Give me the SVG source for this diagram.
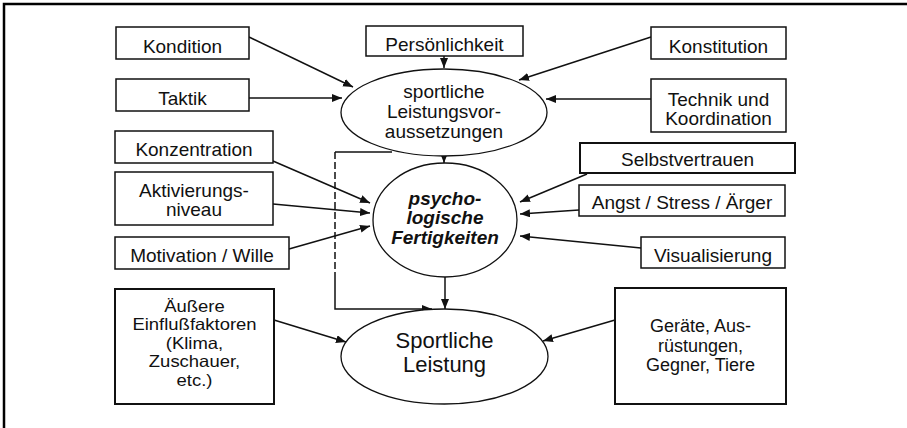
<svg xmlns="http://www.w3.org/2000/svg" width="907" height="428" viewBox="0 0 907 428">
<defs>
<style>
.box{fill:#fff;stroke:#111;stroke-width:1.5}
.boxb{fill:#fff;stroke:#111;stroke-width:2}
.ell{fill:#fff;stroke:#111;stroke-width:1.3}
.t{font-family:"Liberation Sans",Arial,sans-serif;font-size:19px;fill:#111;text-anchor:middle}
.s{font-size:18px}
.sm{font-size:16.5px}
.bi{font-weight:bold;font-style:italic}
.big{font-size:22px}
.c{fill:none;stroke:#111;stroke-width:1.5}
</style>
<marker id="ah" markerUnits="userSpaceOnUse" markerWidth="11" markerHeight="9" refX="10" refY="4" orient="auto">
<path d="M0,0 L10,4 L0,8 z" fill="#111"/>
</marker>
</defs>
<rect width="907" height="428" fill="#fff"/>
<rect x="4" y="4" width="1000" height="1000" fill="none" stroke="#000" stroke-width="2.5"/>

<g id="connectors">
<line class="c" x1="249" y1="37" x2="353" y2="87" marker-end="url(#ah)"/>
<line class="c" x1="249" y1="98" x2="342" y2="98" marker-end="url(#ah)"/>
<line class="c" x1="444" y1="56" x2="444" y2="68" marker-end="url(#ah)"/>
<line class="c" x1="651" y1="37" x2="519" y2="80" marker-end="url(#ah)"/>
<line class="c" x1="651" y1="99" x2="546" y2="99" marker-end="url(#ah)"/>
<line class="c" x1="444" y1="156" x2="444" y2="163" marker-end="url(#ah)"/>
<path class="c" d="M392,152 H335"/>
<path class="c" d="M335,152 V275" stroke-dasharray="7,3"/>
<path class="c" d="M335,275 V309 H432" marker-end="url(#ah)"/>
<line class="c" x1="273" y1="161" x2="370" y2="203" marker-end="url(#ah)"/>
<line class="c" x1="273" y1="204" x2="370" y2="213" marker-end="url(#ah)"/>
<line class="c" x1="289" y1="249" x2="370" y2="226" marker-end="url(#ah)"/>
<line class="c" x1="587" y1="174" x2="520" y2="202" marker-end="url(#ah)"/>
<line class="c" x1="579" y1="210" x2="520" y2="214" marker-end="url(#ah)"/>
<line class="c" x1="641" y1="248" x2="520" y2="236" marker-end="url(#ah)"/>
<line class="c" x1="445" y1="277" x2="445" y2="309" marker-end="url(#ah)"/>
<line class="c" x1="274" y1="320" x2="346" y2="342" marker-end="url(#ah)"/>
<line class="c" x1="615" y1="320" x2="543" y2="341" marker-end="url(#ah)"/>
</g>

<g id="kondition"><rect class="box" x="116" y="27" width="133" height="32"/><text class="t" x="182.5" y="53">Kondition</text></g>
<g id="persoenlichkeit"><rect class="box" x="366" y="26" width="157" height="30"/><text class="t" x="444.5" y="51">Persönlichkeit</text></g>
<g id="konstitution"><rect class="box" x="651" y="27" width="135" height="32"/><text class="t" x="718.5" y="53">Konstitution</text></g>
<g id="taktik"><rect class="box" x="116" y="79" width="133" height="32"/><text class="t" x="182.5" y="105">Taktik</text></g>
<g id="technik"><rect class="box" x="651" y="79" width="135" height="53"/><text class="t" x="718.5" y="106">Technik und</text><text class="t" x="718.5" y="125">Koordination</text></g>
<g id="voraussetzungen"><ellipse class="ell" cx="444" cy="112.5" rx="103" ry="43.5"/><text class="t" x="444" y="98">sportliche</text><text class="t" x="444" y="118">Leistungsvor-</text><text class="t" x="444" y="138">aussetzungen</text></g>

<g id="konzentration"><rect class="box" x="115" y="131" width="158" height="32"/><text class="t" x="194" y="156">Konzentration</text></g>
<g id="aktivierung"><rect class="box" x="115" y="172" width="158" height="53"/><text class="t" x="194" y="197">Aktivierungs-</text><text class="t" x="194" y="216">niveau</text></g>
<g id="motivation"><rect class="box" x="115" y="237" width="174" height="32"/><text class="t" x="202" y="262">Motivation / Wille</text></g>
<g id="selbstvertrauen"><rect class="boxb" x="580" y="143" width="215" height="30"/><text class="t" x="687.5" y="166">Selbstvertrauen</text></g>
<g id="angst"><rect class="box" x="579" y="185" width="206" height="31"/><text class="t" x="682" y="209">Angst / Stress / Ärger</text></g>
<g id="visualisierung"><rect class="box" x="641" y="237" width="144" height="31"/><text class="t" x="713" y="262">Visualisierung</text></g>
<g id="psycho"><ellipse class="ell" cx="445" cy="220" rx="72" ry="57" stroke-width="2"/><text class="t bi" x="445" y="205">psycho-</text><text class="t bi" x="445" y="224">logische</text><text class="t bi" x="445" y="244">Fertigkeiten</text></g>

<g id="aeussere"><rect class="boxb" x="115" y="289" width="159" height="115"/>
<g transform="translate(194.5,0) scale(1.12,1)"><text class="t sm" x="0" y="312">Äußere</text><text class="t sm" x="0" y="330.5">Einflußfaktoren</text><text class="t sm" x="0" y="349">(Klima,</text><text class="t sm" x="0" y="367.5">Zuschauer,</text><text class="t sm" x="0" y="386">etc.)</text></g></g>
<g id="geraete"><rect class="boxb" x="615" y="288" width="171" height="116"/><text class="t s" x="700.5" y="332">Geräte, Aus-</text><text class="t s" x="700.5" y="352">rüstungen,</text><text class="t s" x="700.5" y="371">Gegner, Tiere</text></g>
<g id="leistung"><ellipse class="ell" cx="444.5" cy="356.5" rx="103.5" ry="47.5"/><text class="t big" x="444.5" y="348">Sportliche</text><text class="t big" x="444.5" y="372">Leistung</text></g>
</svg>
